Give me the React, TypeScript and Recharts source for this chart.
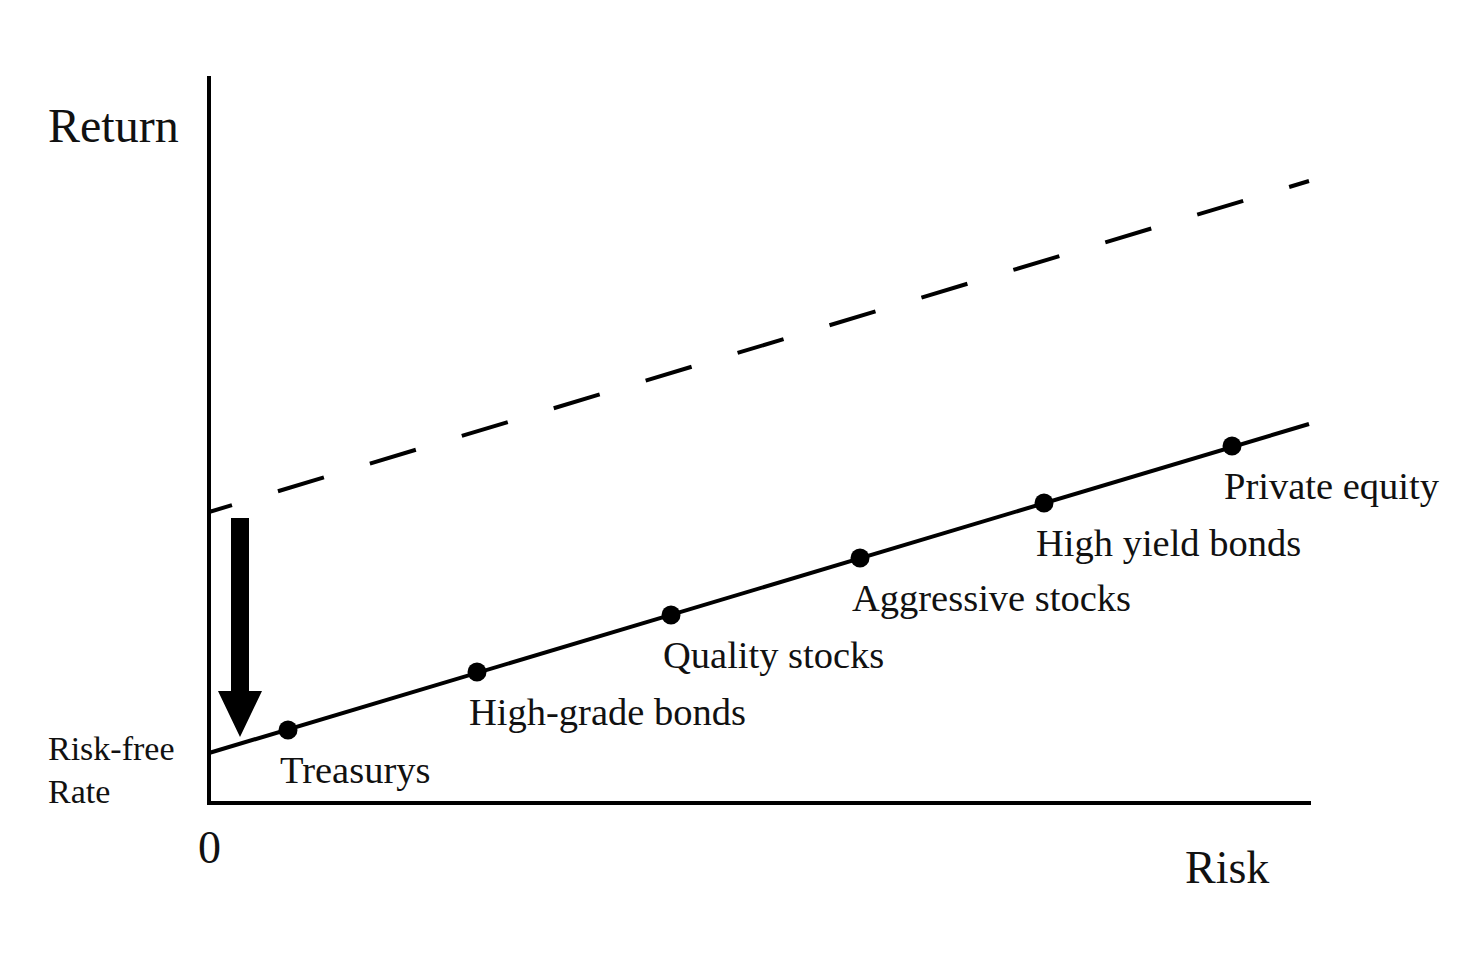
import React from 'react';
import { ComposedChart, Line, Scatter, XAxis, YAxis, ReferenceLine, ReferenceDot } from 'recharts';

// Asset classes on the security market line
const assetNames = ['Treasurys', 'High-grade bonds', 'Quality stocks', 'Aggressive stocks', 'High yield bonds', 'Private equity'];
const assetRisk = [0.79, 2.68, 4.62, 6.51, 8.35, 10.23];
const assetReturn = [1.46, 2.62, 3.76, 4.9, 6.0, 7.14];

// Line end points (risk -> return)
const lineRisk = [0, 11];
const currentLineReturn = [1.0, 7.58];
const previousLineReturn = [5.82, 12.44];

// Arrow showing the drop of the risk-free rate
const arrowRisk = 0.31;
const arrowReturn = [5.7, 1.32];

// Axis texts
const yTitle = 'Return';
const xTitle = 'Risk';
const originLabel = '0';
const riskFreeLabel = ['Risk-free', 'Rate'];

const assetData = assetNames.map((name, i) => ({ x: assetRisk[i], y: assetReturn[i], name }));
const currentLine = lineRisk.map((x, i) => ({ x, y: currentLineReturn[i] }));
const previousLine = lineRisk.map((x, i) => ({ x, y: previousLineReturn[i] }));

const FONT = '"Liberation Serif", "Times New Roman", serif';
const INK = '#111';

const AssetShape = (props: any) => {
  const { cx, cy, payload } = props;
  if (cx == null || cy == null) return null;
  return (
    <g>
      <circle cx={cx} cy={cy} r={9.5} fill="#000" />
      <text x={cx - 8} y={cy + 53} fontFamily={FONT} fontSize={38.5} fill={INK} textAnchor="start">
        {payload?.name}
      </text>
    </g>
  );
};

const textShape = (text: string, size: number, anchor: 'start' | 'middle' | 'end') => (props: any) => {
  const { cx, cy } = props;
  if (cx == null || cy == null) return null;
  return (
    <text x={cx} y={cy} fontFamily={FONT} fontSize={size} fill={INK} textAnchor={anchor}>
      {text}
    </text>
  );
};

const ArrowShape = (props: any) => {
  const { x1, y1, y2 } = props;
  if (x1 == null || y1 == null || y2 == null) return null;
  const x = Number(x1);
  const top = Number(y1);
  const tip = Number(y2);
  const headStart = tip - 46;
  const pts = [
    [x - 9, top],
    [x + 9, top],
    [x + 9, headStart],
    [x + 22, headStart],
    [x, tip],
    [x - 22, headStart],
    [x - 9, headStart],
  ]
    .map((p) => p.join(','))
    .join(' ');
  return <polygon points={pts} fill="#000" />;
};

export default function App() {
  return (
    <div style={{ width: 1458, height: 962, background: '#fff' }}>
      <ComposedChart
        width={1458}
        height={962}
        margin={{ top: 70, right: 157, bottom: 166, left: 200 }}
      >
        <XAxis
          type="number"
          dataKey="x"
          domain={[0, 11]}
          height={1}
          tick={false}
          tickLine={false}
          axisLine={{ stroke: '#000', strokeWidth: 4, strokeLinecap: 'square' }}
        />
        <YAxis
          type="number"
          dataKey="y"
          domain={[0, 14.5]}
          width={1}
          tick={false}
          tickLine={false}
          axisLine={{ stroke: '#000', strokeWidth: 4, strokeLinecap: 'square' }}
        />
        <Line
          data={previousLine}
          dataKey="y"
          type="linear"
          stroke="#000"
          strokeWidth={4}
          strokeDasharray="48 48"
          strokeDashoffset={24}
          dot={false}
          activeDot={false}
          isAnimationActive={false}
        />
        <Line
          data={currentLine}
          dataKey="y"
          type="linear"
          stroke="#000"
          strokeWidth={4}
          dot={false}
          activeDot={false}
          isAnimationActive={false}
        />
        <Scatter data={assetData} dataKey="y" shape={<AssetShape />} isAnimationActive={false} />
        <ReferenceLine
          segment={[
            { x: arrowRisk, y: arrowReturn[0] },
            { x: arrowRisk, y: arrowReturn[1] },
          ]}
          ifOverflow="visible"
          shape={<ArrowShape />}
        />
        <ReferenceDot x={-1.61} y={13.22} r={0} ifOverflow="visible" shape={textShape(yTitle, 48, 'start')} />
        <ReferenceDot x={-1.61} y={0.86} r={0} ifOverflow="visible" shape={textShape(riskFreeLabel[0], 34, 'start')} />
        <ReferenceDot x={-1.61} y={0} r={0} ifOverflow="visible" shape={textShape(riskFreeLabel[1], 34, 'start')} />
        <ReferenceDot x={0.005} y={-1.2} r={0} ifOverflow="visible" shape={textShape(originLabel, 46, 'middle')} />
        <ReferenceDot x={9.76} y={-1.6} r={0} ifOverflow="visible" shape={textShape(xTitle, 46, 'start')} />
      </ComposedChart>
    </div>
  );
}
